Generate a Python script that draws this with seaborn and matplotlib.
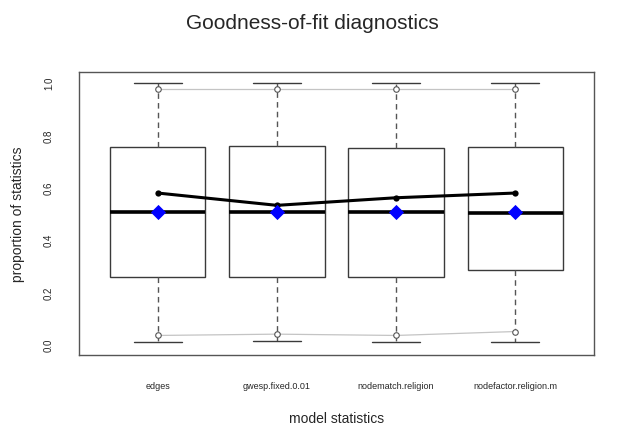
import matplotlib
matplotlib.use("Agg")
import matplotlib.pyplot as plt
import seaborn as sns
import pandas as pd
import numpy as np

# five-number summaries of the simulated statistics (proportions)
stats = ["edges", "gwesp.fixed.0.01", "nodematch.religion", "nodefactor.religion.m"]
box_min = [0.009, 0.014, 0.009, 0.009]
box_q1 = [0.256, 0.256, 0.256, 0.283]
box_med = [0.505, 0.505, 0.507, 0.500]
box_q3 = [0.752, 0.756, 0.749, 0.752]
box_max = [1.0, 1.0, 1.0, 1.0]

sim_mean = [0.578, 0.531, 0.560, 0.578]
observed = [0.505, 0.505, 0.504, 0.504]
lower_q = [0.034, 0.039, 0.034, 0.049]
upper_q = [0.976, 0.976, 0.976, 0.976]

sns.set_style("white")
plt.rcParams['font.family'] = ['Liberation Sans', 'DejaVu Sans']

rows = []
for i, s in enumerate(stats):
    for v in (box_min[i], box_q1[i], box_med[i], box_q3[i], box_max[i]):
        rows.append({"stat": s, "value": v})
df = pd.DataFrame(rows)

fig = plt.figure(figsize=(6.24, 4.35), dpi=100)
ax = fig.add_axes([0.1266, 0.182, 0.8253, 0.650])

edge = "#3a3a3a"
sns.boxplot(data=df, x="stat", y="value", order=stats, width=0.8, whis=(0, 100),
            color="white", linecolor=edge, linewidth=1.0, ax=ax,
            medianprops=dict(color="black", linewidth=2.6),
            whiskerprops=dict(linestyle=(0, (4, 3)), color="#555555"),
            capprops=dict(color=edge))

pos = np.arange(len(stats))
for q in (lower_q, upper_q):
    sns.lineplot(x=pos, y=q, color="#c4c4c4", linewidth=0.9, ax=ax,
                 marker="o", markersize=4, markerfacecolor="white",
                 markeredgecolor="#555555", markeredgewidth=0.8, sort=False)
sns.lineplot(x=pos, y=sim_mean, color="black", linewidth=2.2, ax=ax,
             marker="o", markersize=4.5, markeredgewidth=0, sort=False)
sns.scatterplot(x=pos, y=observed, color="blue", marker="D", s=60,
                linewidth=0, ax=ax, zorder=5)

ax.set_xlim(-0.66, 3.66)
ax.set_ylim(-0.04, 1.04)
ax.set_yticks([0.0, 0.2, 0.4, 0.6, 0.8, 1.0])
ax.set_yticklabels(["0.0", "0.2", "0.4", "0.6", "0.8", "1.0"], rotation=90, va="center")
ax.set_xticks(pos)
ax.set_xticklabels(stats)
ax.tick_params(axis="x", length=6, width=0.9, color=edge, pad=13, labelsize=6.5)
ax.tick_params(axis="y", length=6, width=0.9, color=edge, pad=12, labelsize=7)
for sp in ax.spines.values():
    sp.set_visible(True)
    sp.set_color("#555555")
    sp.set_linewidth(1.0)

ax.set_xlabel("model statistics", fontsize=10)
ax.set_ylabel("proportion of statistics", fontsize=10)
ax.xaxis.set_label_coords(0.5, -0.2)
ax.yaxis.set_label_coords(-0.105, 0.5)

fig.suptitle("Goodness-of-fit diagnostics", fontsize=15, y=0.947, va="center")

fig.savefig("out.png", dpi=100)
